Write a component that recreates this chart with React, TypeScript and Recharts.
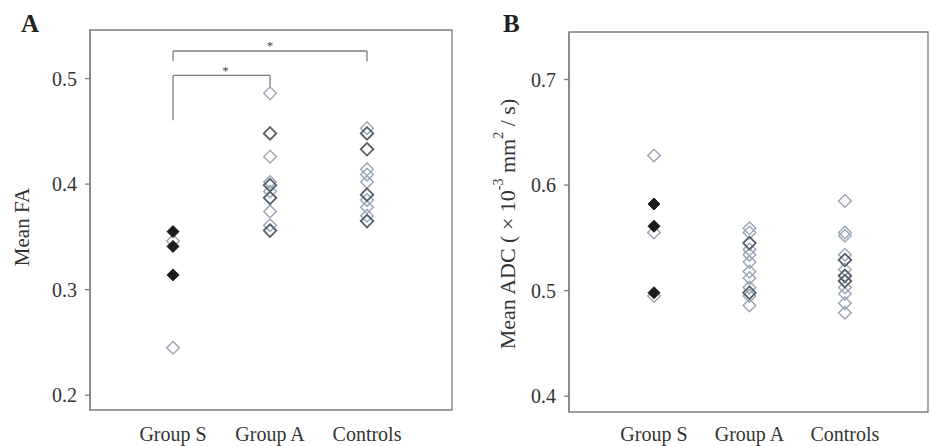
import React from "react";
import {
  ScatterChart,
  Scatter,
  XAxis,
  YAxis,
  ReferenceArea,
  ReferenceLine,
  ReferenceDot,
} from "recharts";

const categories = ["Group S", "Group A", "Controls"];

// Panel A: mean FA, split by marker style
const faFilledS = [0.355, 0.341, 0.314];
const faLightS = [0.346, 0.245];
const faDarkA = [0.448, 0.399, 0.387, 0.356];
const faLightA = [0.486, 0.426, 0.402, 0.393, 0.374, 0.361];
const faDarkC = [0.448, 0.433, 0.39, 0.365];
const faLightC = [0.453, 0.414, 0.409, 0.402, 0.385, 0.378, 0.37];
const faTicks = [0.2, 0.3, 0.4, 0.5];

// significance brackets in panel A: [from group, to group, bar y, left foot, right foot, star x, star y]
const bracketOuter = [1, 3, 0.5261, 0.5163, 0.5163, 2, 0.5314];
const bracketInner = [1, 2, 0.503, 0.4604, 0.4907, 1.54, 0.5077];

// Panel B: mean ADC
const adcFilledS = [0.582, 0.561, 0.498];
const adcLightS = [0.628, 0.555, 0.495];
const adcDarkA = [0.545, 0.498];
const adcLightA = [0.559, 0.555, 0.539, 0.534, 0.527, 0.518, 0.512, 0.503, 0.495, 0.486];
const adcDarkC = [0.529, 0.514, 0.509];
const adcLightC = [0.585, 0.555, 0.552, 0.534, 0.52, 0.503, 0.497, 0.488, 0.479];
const adcTicks = [0.4, 0.5, 0.6, 0.7];

const FONT = "'Liberation Serif', 'Times New Roman', serif";
const BOX = "#7d7d7d";
const TEXT = "#333";

const toPoints = (group: number, values: number[]) =>
  values.map((v) => ({ x: group, y: v }));

const diamond = (fill: string, stroke: string, half: number, sw: number) =>
  (props: any) => {
    const { cx, cy } = props;
    if (cx == null || cy == null) return <g />;
    const d = `M${cx},${cy - half}L${cx + half},${cy}L${cx},${cy + half}L${cx - half},${cy}Z`;
    return <path d={d} fill={fill} stroke={stroke} strokeWidth={sw} />;
  };

const filledShape = diamond("#1c1c1c", "#1c1c1c", 6, 1);
const darkShape = diamond("none", "#56606a", 6.3, 1.8);
const lightShape = diamond("none", "#99a5b3", 6.3, 1.4);

const tickStyle = { fontSize: 20, fill: TEXT, fontFamily: FONT };

const Bracket = ({ b }: { b: number[] }) => {
  const [from, to, top, leftFoot, rightFoot, sx, sy] = b;
  return (
    <>
      <ReferenceLine segment={[{ x: from, y: top }, { x: to, y: top }]} stroke={BOX} strokeWidth={1.3} />
      <ReferenceLine segment={[{ x: from, y: leftFoot }, { x: from, y: top }]} stroke={BOX} strokeWidth={1.3} />
      <ReferenceLine segment={[{ x: to, y: rightFoot }, { x: to, y: top }]} stroke={BOX} strokeWidth={1.3} />
      <ReferenceDot
        x={sx}
        y={sy}
        r={0}
        label={{ value: "*", position: "center", fontSize: 13, fill: "#444", fontFamily: FONT }}
      />
    </>
  );
};

const App: React.FC = () => {
  const faX: [number, number] = [0.144, 3.876];
  const faY: [number, number] = [0.186, 0.546];
  const adcX: [number, number] = [0.11, 3.87];
  const adcY: [number, number] = [0.385, 0.745];

  return (
    <div style={{ position: "absolute", left: 0, top: 0, width: 930, height: 446, background: "#fff", fontFamily: FONT }}>
      <div style={{ position: "absolute", left: 21, top: 10, fontSize: 25, fontWeight: "bold", color: "#222" }}>A</div>
      <div style={{ position: "absolute", left: 503, top: 10, fontSize: 25, fontWeight: "bold", color: "#222" }}>B</div>

      <div style={{ position: "absolute", left: 0, top: 0 }}>
        <ScatterChart width={460} height={446} margin={{ top: 30, right: 8, bottom: 0, left: 40 }}>
          <XAxis
            dataKey="x"
            type="number"
            domain={faX}
            ticks={[1, 2, 3]}
            tickFormatter={(v) => categories[v - 1]}
            axisLine={false}
            tickLine={false}
            tickSize={8}
            tickMargin={9}
            height={36}
            tick={tickStyle}
          />
          <YAxis
            dataKey="y"
            type="number"
            domain={faY}
            ticks={faTicks}
            tickFormatter={(v) => v.toFixed(1)}
            width={50}
            tickSize={5}
            tickMargin={8}
            axisLine={{ stroke: BOX, strokeWidth: 1.3 }}
            tickLine={{ stroke: BOX, strokeWidth: 1.3 }}
            tick={tickStyle}
            label={{
              content: ({ viewBox }: any) => {
                const x = 22;
                const y = viewBox.y + viewBox.height / 2 + 7;
                return (
                  <text x={x} y={y} transform={`rotate(-90 ${x} ${y})`} textAnchor="middle" dominantBaseline="central" fontSize={21} fill={TEXT} fontFamily={FONT}>
                    Mean FA
                  </text>
                );
              },
            }}
          />
          <ReferenceArea x1={faX[0]} x2={faX[1]} y1={faY[0]} y2={faY[1]} fill="none" stroke={BOX} strokeWidth={1.3} ifOverflow="visible" />
          <Bracket b={bracketOuter} />
          <Bracket b={bracketInner} />
          <Scatter data={toPoints(1, faLightS)} shape={lightShape} isAnimationActive={false} />
          <Scatter data={toPoints(2, faLightA)} shape={lightShape} isAnimationActive={false} />
          <Scatter data={toPoints(3, faLightC)} shape={lightShape} isAnimationActive={false} />
          <Scatter data={toPoints(2, faDarkA)} shape={darkShape} isAnimationActive={false} />
          <Scatter data={toPoints(3, faDarkC)} shape={darkShape} isAnimationActive={false} />
          <Scatter data={toPoints(1, faFilledS)} shape={filledShape} isAnimationActive={false} />
        </ScatterChart>
      </div>

      <div style={{ position: "absolute", left: 460, top: 0 }}>
        <ScatterChart width={470} height={446} margin={{ top: 32, right: 2, bottom: 0, left: 59 }}>
          <XAxis
            dataKey="x"
            type="number"
            domain={adcX}
            ticks={[1, 2, 3]}
            tickFormatter={(v) => categories[v - 1]}
            axisLine={false}
            tickLine={false}
            tickSize={8}
            tickMargin={7}
            height={34}
            tick={tickStyle}
          />
          <YAxis
            dataKey="y"
            type="number"
            domain={adcY}
            ticks={adcTicks}
            tickFormatter={(v) => v.toFixed(1)}
            width={50}
            tickSize={5}
            tickMargin={8}
            axisLine={{ stroke: BOX, strokeWidth: 1.3 }}
            tickLine={{ stroke: BOX, strokeWidth: 1.3 }}
            tick={tickStyle}
            label={{
              content: ({ viewBox }: any) => {
                const x = 47;
                const y = viewBox.y + viewBox.height / 2 + 2;
                return (
                  <text x={x} y={y} transform={`rotate(-90 ${x} ${y})`} textAnchor="middle" dominantBaseline="central" fontSize={22} fill={TEXT} fontFamily={FONT}>
                    Mean ADC ( × 10
                    <tspan dy={-9} fontSize={14}>-3</tspan>
                    <tspan dy={9}> mm</tspan>
                    <tspan dy={-9} fontSize={14}>2</tspan>
                    <tspan dy={9}> / s)</tspan>
                  </text>
                );
              },
            }}
          />
          <ReferenceArea x1={adcX[0]} x2={adcX[1]} y1={adcY[0]} y2={adcY[1]} fill="none" stroke={BOX} strokeWidth={1.3} ifOverflow="visible" />
          <Scatter data={toPoints(1, adcLightS)} shape={lightShape} isAnimationActive={false} />
          <Scatter data={toPoints(2, adcLightA)} shape={lightShape} isAnimationActive={false} />
          <Scatter data={toPoints(3, adcLightC)} shape={lightShape} isAnimationActive={false} />
          <Scatter data={toPoints(2, adcDarkA)} shape={darkShape} isAnimationActive={false} />
          <Scatter data={toPoints(3, adcDarkC)} shape={darkShape} isAnimationActive={false} />
          <Scatter data={toPoints(1, adcFilledS)} shape={filledShape} isAnimationActive={false} />
        </ScatterChart>
      </div>
    </div>
  );
};

export default App;
